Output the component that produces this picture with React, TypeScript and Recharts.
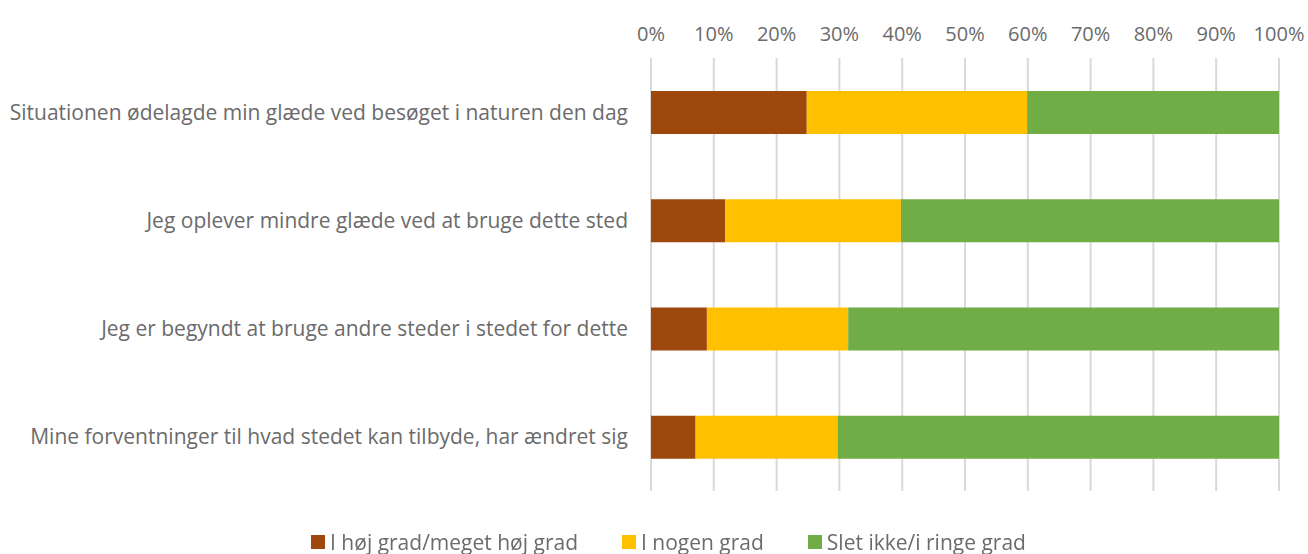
import React from "react";
import {
  BarChart,
  Bar,
  XAxis,
  YAxis,
  CartesianGrid,
  Legend,
} from "recharts";

const categories = [
  "Situationen ødelagde min glæde ved besøget i naturen den dag",
  "Jeg oplever mindre glæde ved at bruge dette sted",
  "Jeg er begyndt at bruge andre steder i stedet for dette",
  "Mine forventninger til hvad stedet kan tilbyde, har ændret sig",
];
const hoejGrad = [0.248, 0.118, 0.089, 0.071];
const nogenGrad = [0.351, 0.28, 0.225, 0.226];
const sletIkke = [0.401, 0.602, 0.686, 0.703];
const ticks = [0, 0.1, 0.2, 0.3, 0.4, 0.5, 0.6, 0.7, 0.8, 0.9, 1];

const series = [
  { key: "hoej", name: "I høj grad/meget høj grad", color: "#9E480E" },
  { key: "nogen", name: "I nogen grad", color: "#FFC000" },
  { key: "slet", name: "Slet ikke/i ringe grad", color: "#70AD47" },
];

const data = categories.map((c, i) => ({
  category: c,
  hoej: hoejGrad[i],
  nogen: nogenGrad[i],
  slet: sletIkke[i],
}));

const FONT = "'Open Sans', 'Liberation Sans', sans-serif";
const TEXT = "#6b6b6b";

// legend drawn by hand so the squares and spacing follow the original
const LegendBox = () => (
  <div
    style={{
      display: "flex",
      justifyContent: "center",
      gap: 44,
      fontFamily: FONT,
      fontSize: 21,
      color: TEXT,
      lineHeight: "22px",
    }}
  >
    {series.map((s) => (
      <div key={s.key} style={{ display: "flex", alignItems: "center" }}>
        <span
          style={{
            width: 14,
            height: 14,
            background: s.color,
            display: "inline-block",
            marginRight: 5,
          }}
        />
        {s.name}
      </div>
    ))}
  </div>
);

export default function App() {
  return (
    <div style={{ position: "fixed", left: 0, top: 0, background: "#fff" }}>
      <BarChart
        width={1308}
        height={554}
        data={data}
        layout="vertical"
        margin={{ top: 0, right: 29, bottom: 41, left: 0 }}
        barCategoryGap={0}
      >
        <CartesianGrid horizontal={false} stroke="#D9D9D9" strokeWidth={2} />
        <XAxis
          type="number"
          orientation="top"
          domain={[0, 1]}
          ticks={ticks}
          tickFormatter={(v: number) => `${Math.round(v * 100)}%`}
          axisLine={false}
          tickLine={false}
          tickSize={0}
          tickMargin={17}
          height={58}
          interval={0}
          tick={{ fill: TEXT, fontSize: 20, fontFamily: FONT }}
        />
        <YAxis
          type="category"
          dataKey="category"
          width={651}
          axisLine={false}
          tickLine={false}
          tickSize={0}
          tickMargin={23}
          tick={{ fill: TEXT, fontSize: 21, fontFamily: FONT }}
        />
        {series.map((s) => (
          <Bar
            key={s.key}
            dataKey={s.key}
            name={s.name}
            stackId="a"
            fill={s.color}
            barSize={43}
            isAnimationActive={false}
          />
        ))}
        <Legend
          verticalAlign="bottom"
          content={() => <LegendBox />}
          wrapperStyle={{ left: 29, bottom: 0, height: 22, top: 531 }}
        />
      </BarChart>
    </div>
  );
}
